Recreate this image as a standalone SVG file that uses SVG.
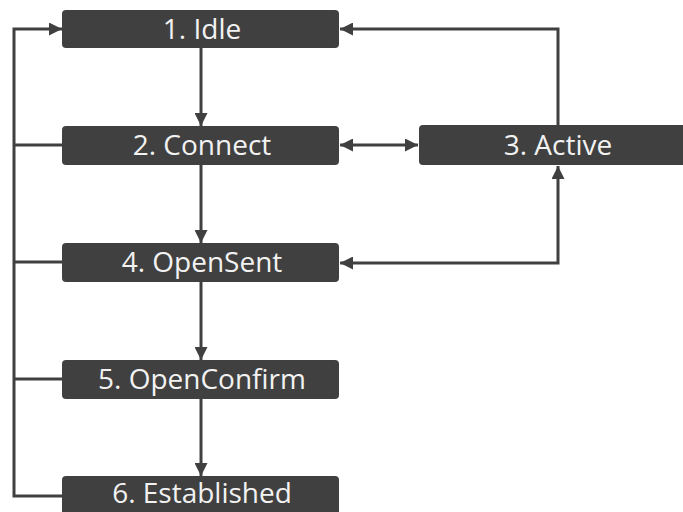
<svg xmlns="http://www.w3.org/2000/svg" width="683" height="512" viewBox="0 0 683 512">
  <style>
    .box { fill: #404040; }
    .label { fill: #f2f2f2; font-family: "Open Sans", "Noto Sans", sans-serif; font-size: 28px; text-anchor: middle; }
    .wire { fill: none; stroke: #404040; stroke-width: 3; }
  </style>
  <defs>
    <marker id="head" viewBox="0 0 13 13" refX="13" refY="6.5" markerWidth="13" markerHeight="13" markerUnits="userSpaceOnUse" orient="auto-start-reverse">
      <path d="M0,0 L13,6.5 L0,13 Z" fill="#404040"/>
    </marker>
  </defs>
  <rect width="683" height="512" fill="#ffffff"/>

  <g id="connectors">
    <!-- main downward chain -->
    <line class="wire" x1="201" y1="48" x2="201" y2="126" marker-end="url(#head)"/>
    <line class="wire" x1="201" y1="165" x2="201" y2="243" marker-end="url(#head)"/>
    <line class="wire" x1="201" y1="282" x2="201" y2="360" marker-end="url(#head)"/>
    <line class="wire" x1="201" y1="399" x2="201" y2="476" marker-end="url(#head)"/>
    <!-- return path to Idle on the left -->
    <path class="wire" d="M62,496 H14 V29 H62" marker-end="url(#head)"/>
    <line class="wire" x1="14" y1="145" x2="62" y2="145"/>
    <line class="wire" x1="14" y1="262" x2="62" y2="262"/>
    <line class="wire" x1="14" y1="379" x2="62" y2="379"/>
    <!-- Active to Idle -->
    <path class="wire" d="M558,125 V29 H340" marker-end="url(#head)"/>
    <!-- Connect <-> Active -->
    <line class="wire" x1="340" y1="145" x2="418" y2="145" marker-start="url(#head)" marker-end="url(#head)"/>
    <!-- OpenSent <-> Active -->
    <path class="wire" d="M340,263 H558 V166" marker-start="url(#head)" marker-end="url(#head)"/>
  </g>

  <g id="node-idle">
    <rect class="box" x="62" y="10" width="277" height="38" rx="4"/>
    <text class="label" x="202" y="39">1. Idle</text>
  </g>
  <g id="node-connect">
    <rect class="box" x="62" y="126" width="277" height="39" rx="4"/>
    <text class="label" x="202" y="155">2. Connect</text>
  </g>
  <g id="node-active">
    <rect class="box" x="419" y="125" width="277" height="40" rx="4"/>
    <text class="label" x="558" y="155">3. Active</text>
  </g>
  <g id="node-opensent">
    <rect class="box" x="62" y="243" width="277" height="39" rx="4"/>
    <text class="label" x="202" y="272">4. OpenSent</text>
  </g>
  <g id="node-openconfirm">
    <rect class="box" x="62" y="360" width="277" height="39" rx="4"/>
    <text class="label" x="202" y="389">5. OpenConfirm</text>
  </g>
  <g id="node-established">
    <rect class="box" x="62" y="476" width="277" height="40" rx="4"/>
    <text class="label" x="202" y="503">6. Established</text>
  </g>
</svg>
